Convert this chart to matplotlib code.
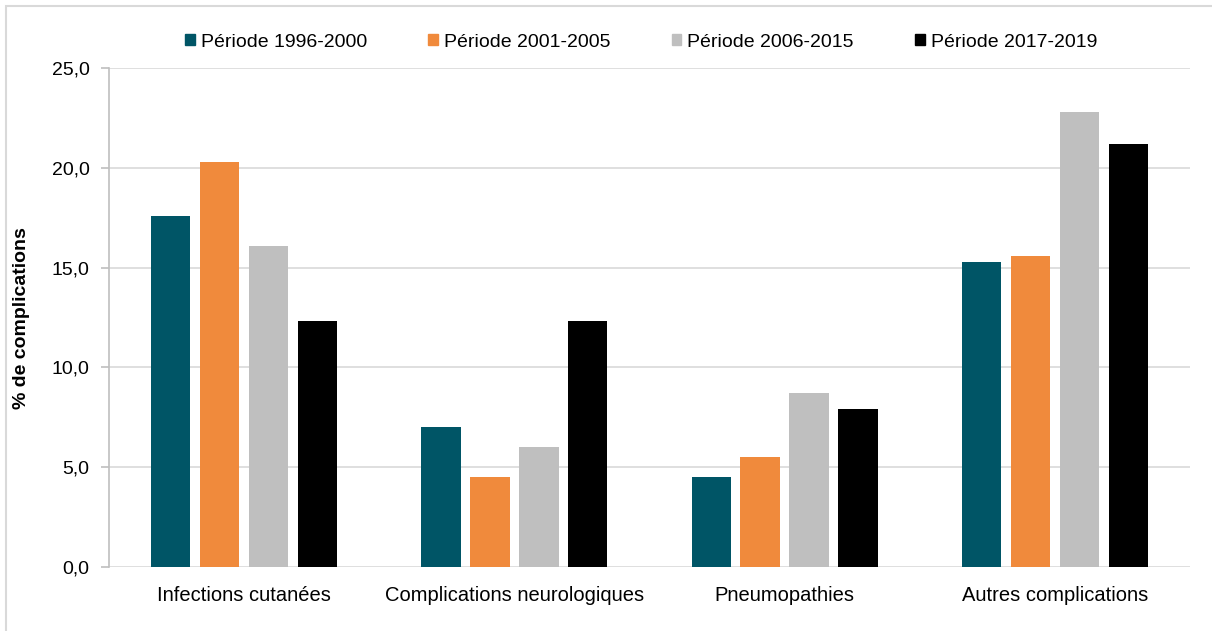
import numpy as np
import matplotlib.pyplot as plt
from matplotlib.patches import Patch, Rectangle

# Data
categories = ["Infections cutanées", "Complications neurologiques",
              "Pneumopathies", "Autres complications"]
periods = ["Période 1996-2000", "Période 2001-2005",
           "Période 2006-2015", "Période 2017-2019"]
p1996 = [17.6, 7.0, 4.5, 15.3]
p2001 = [20.3, 4.5, 5.5, 15.6]
p2006 = [16.1, 6.0, 8.7, 22.8]
p2017 = [12.3, 12.3, 7.9, 21.2]
colors = ["#005566", "#F08A3C", "#BFBFBF", "#000000"]

plt.rcParams['font.family'] = ['Liberation Sans', 'DejaVu Sans']

fig = plt.figure(figsize=(12.12, 6.31), dpi=100)
ax = fig.add_axes([109 / 1212, 64 / 631, (1190 - 109) / 1212, (567 - 68) / 631])

x = np.arange(len(categories))
step = 0.181
width = 0.146
for i, (vals, c) in enumerate(zip([p1996, p2001, p2006, p2017], colors)):
    ax.bar(x + (i - 1.5) * step, vals, width, color=c, zorder=3)

ax.set_xlim(-0.5, 3.5)
ax.set_ylim(0, 25)
ax.set_yticks(np.arange(0, 26, 5))
ax.set_yticklabels([f"{v:.1f}".replace(".", ",") for v in np.arange(0, 26, 5)])
ax.set_xticks(x)
ax.set_xticklabels(categories)
ax.yaxis.grid(True, color="#D9D9D9", linewidth=1.2, zorder=0)

for s in ["top", "right", "bottom"]:
    ax.spines[s].set_visible(False)
ax.spines["left"].set_color("#BFBFBF")
ax.spines["left"].set_linewidth(1.2)
ax.tick_params(axis="y", length=6, color="#BFBFBF", width=1.2, labelsize=14, pad=8)
ax.tick_params(axis="x", length=0, labelsize=14.5, pad=14)

fig.text(22 / 1212, 1 - 318 / 631, "% de complications", fontsize=14,
         fontweight="bold", rotation=90, ha="center", va="center")

handles = [Patch(color=c, label=p) for c, p in zip(colors, periods)]
fig.legend(handles=handles, loc="center", bbox_to_anchor=(0.529, 0.933), ncol=4,
           frameon=False, fontsize=14, handlelength=0.5, handleheight=0.5,
           handletextpad=0.3, columnspacing=3.15)

# light frame around the chart
fig.patches.append(Rectangle((6 / 1212, -0.1), 1.2, (631 - 6) / 631 + 0.1,
                             transform=fig.transFigure, fill=False,
                             edgecolor="#D9D9D9", linewidth=1.5))

fig.savefig("out.png", dpi=100)
